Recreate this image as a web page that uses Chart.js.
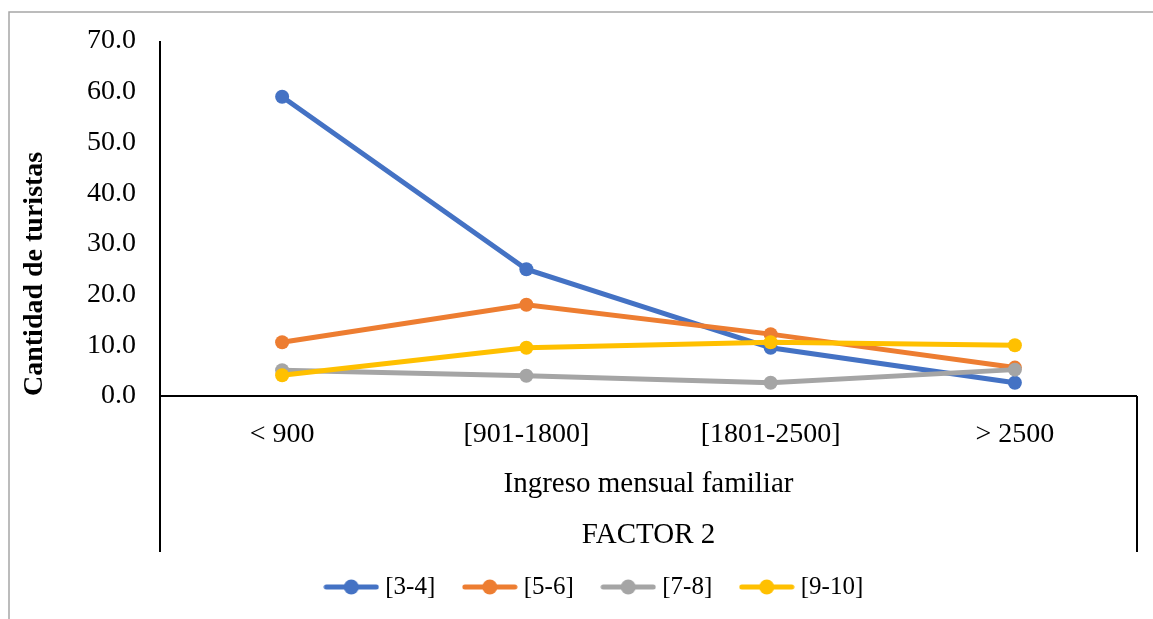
<!DOCTYPE html>
<html>
<head>
<meta charset="utf-8">
<script src="https://cdn.jsdelivr.net/npm/chart.js@4/dist/chart.umd.min.js"></script>
<style>
html,body{margin:0;padding:0;background:#fff;}
#wrap{width:1153px;height:619px;position:relative;}
</style>
</head>
<body>
<div id="wrap"><canvas id="c" width="1153" height="619"></canvas></div>
<script>
const categories = ['< 900', '[901-1800]', '[1801-2500]', '> 2500'];
const seriesNames = ['[3-4]', '[5-6]', '[7-8]', '[9-10]'];
const s34 = [59.0, 25.0, 9.5, 2.6];
const s56 = [10.6, 18.0, 12.2, 5.6];
const s78 = [5.1, 4.0, 2.6, 5.2];
const s910 = [4.1, 9.5, 10.6, 10.0];
const yTickValues = [0, 10, 20, 30, 40, 50, 60, 70];
const yTitle = 'Cantidad de turistas';
const xTitleLevel1 = 'Ingreso mensual familiar';
const xTitleLevel2 = 'FACTOR 2';

const colors = ['#4472C4', '#ED7D31', '#A5A5A5', '#FFC000'];
const seriesValues = [s34, s56, s78, s910];
const SERIF = '"Liberation Serif", "Times New Roman", serif';

function legendSwatch(color) {
  const cv = document.createElement('canvas');
  cv.width = 56; cv.height = 16;
  const g = cv.getContext('2d');
  g.strokeStyle = color; g.lineWidth = 5; g.lineCap = 'round';
  g.beginPath(); g.moveTo(3, 8); g.lineTo(53, 8); g.stroke();
  g.fillStyle = color;
  g.beginPath(); g.arc(28, 8, 7.5, 0, Math.PI * 2); g.fill();
  return cv;
}
const swatches = colors.map(legendSwatch);

const datasets = seriesNames.map((name, i) => ({
  label: name,
  data: seriesValues[i],
  borderColor: colors[i],
  backgroundColor: colors[i],
  borderWidth: 5,
  pointRadius: 7,
  pointHoverRadius: 7,
  pointBorderWidth: 0,
  pointBackgroundColor: colors[i],
  tension: 0,
  order: seriesNames.length - i
}));

const decor = {
  id: 'decor',
  beforeDraw(chart) {
    const ctx = chart.ctx;
    ctx.save();
    ctx.fillStyle = '#fff';
    ctx.fillRect(0, 0, chart.width, chart.height);
    ctx.strokeStyle = '#A6A6A6';
    ctx.lineWidth = 1.5;
    ctx.beginPath();
    ctx.moveTo(9, chart.height);
    ctx.lineTo(9, 12);
    ctx.lineTo(chart.width, 12);
    ctx.stroke();
    ctx.restore();
  },
  afterDraw(chart) {
    const ctx = chart.ctx;
    const x = chart.scales.x, y = chart.scales.y;
    const bottomExt = 552;
    ctx.save();
    ctx.strokeStyle = '#000';
    ctx.lineWidth = 2;
    ctx.beginPath();
    ctx.moveTo(x.left, y.top); ctx.lineTo(x.left, bottomExt);
    ctx.moveTo(x.right, y.bottom); ctx.lineTo(x.right, bottomExt);
    ctx.moveTo(x.left, y.bottom); ctx.lineTo(x.right, y.bottom);
    ctx.stroke();
    ctx.fillStyle = '#000';
    ctx.textAlign = 'center';
    ctx.textBaseline = 'middle';
    const cx = (x.left + x.right) / 2;
    ctx.font = '29px ' + SERIF;
    ctx.fillText(xTitleLevel1, cx, 484);
    ctx.fillText(xTitleLevel2, cx, 535);
    ctx.restore();
  }
};

new Chart(document.getElementById('c'), {
  type: 'line',
  data: { labels: categories, datasets },
  plugins: [decor],
  options: {
    responsive: false,
    animation: false,
    devicePixelRatio: 1,
    layout: { padding: { top: 41, left: 56, right: 16, bottom: 9.5 } },
    plugins: {
      tooltip: { enabled: false },
      legend: {
        position: 'bottom',
        labels: {
          font: { family: SERIF, size: 25 },
          color: '#000',
          usePointStyle: true,
          pointStyleWidth: 43,
          padding: 33,
          sort: (a, b) => a.datasetIndex - b.datasetIndex,
          generateLabels(chart) {
            const items = Chart.defaults.plugins.legend.labels.generateLabels(chart);
            items.forEach(it => { it.pointStyle = swatches[it.datasetIndex]; });
            return items;
          }
        }
      }
    },
    scales: {
      x: {
        offset: true,
        grid: { display: false, drawTicks: false, tickLength: 0 },
        border: { display: false },
        ticks: { font: { family: SERIF, size: 28 }, color: '#000', padding: 22, maxRotation: 0, autoSkip: false },
        afterFit(scale) { scale.height = 145.5; }
      },
      y: {
        min: 0, max: 70,
        afterBuildTicks(scale) { scale.ticks = yTickValues.map(v => ({ value: v })); },
        grid: { display: false, drawTicks: false, tickLength: 0 },
        border: { display: false },
        ticks: {
          font: { family: SERIF, size: 28 }, color: '#000', padding: 24,
          callback: v => Number(v).toFixed(1)
        },
        title: {
          display: true, text: yTitle, align: 'start',
          font: { family: SERIF, size: 28, weight: 'bold' }, color: '#000',
          padding: { top: -37.8, bottom: 0 }
        },
        afterFit(scale) { scale.width = 104; }
      }
    }
  }
});
</script>
</body>
</html>
